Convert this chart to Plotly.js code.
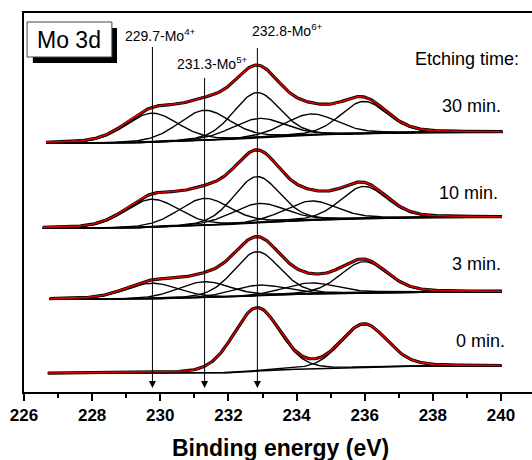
<!DOCTYPE html>
<html>
<head>
<meta charset="utf-8">
<script src="https://cdn.plot.ly/plotly-3.0.1.min.js"></script>
<style>html,body{margin:0;padding:0;background:#fff;}#chart{width:532px;height:460px;}</style>
</head>
<body>
<div id="chart"></div>
<script>
// ---- data ----
// spectra, bottom to top
const etchLabels = ['0 min.', '3 min.', '10 min.', '30 min.'];
const energyStart = [226.70, 226.75, 226.55, 226.65];   // eV, first data point
const energyEnd   = [240.05, 240.05, 240.05, 240.05];   // eV, last data point
const bgLeft  = [18.7, 92.7, 163.7, 248.7];             // background level at low-energy end (a.u.)
const bgRight = [26.0, 100.3, 174.7, 259.7];            // background level at high-energy end (a.u.)

// fitted components (doublets of Mo4+, Mo5+, Mo6+)
const peakNames   = ['Mo4+ 3d5/2', 'Mo4+ 3d3/2', 'Mo5+ 3d5/2', 'Mo5+ 3d3/2', 'Mo6+ 3d5/2', 'Mo6+ 3d3/2'];
const peakCenters = [229.75, 232.88, 231.30, 234.43, 232.83, 235.97];  // eV
const peakFwhm    = [1.85, 1.85, 1.8, 1.8, 1.6, 1.6];                   // eV
const glMix = 0.2;                                                       // Lorentzian fraction
const heights0min  = [0, 0, 0, 0, 63, 43];
const heights3min  = [15.5, 10.5, 16, 11, 44, 31];
const heights10min = [28, 19, 27, 19, 46, 32];
const heights30min = [29, 19, 30, 21, 45, 32];
const peakHeights = [heights0min, heights3min, heights10min, heights30min];

// reference energies marked with arrows
const refEnergy = [229.77, 231.30, 232.85];
const refLabels = ['229.7-Mo<sup>4+</sup>', '231.3-Mo<sup>5+</sup>', '232.8-Mo<sup>6+</sup>'];

// x axis ticks and title
const xTicks = [226, 228, 230, 232, 234, 236, 238, 240];
const xTitle = 'Binding energy (eV)';

// ---- build traces ----
const STEP = 0.04;
function pv(x, c, h, f) {
  const d = (x - c) / f;
  return h * ((1 - glMix) * Math.exp(-4 * Math.LN2 * d * d) + glMix / (1 + 4 * d * d));
}
const traces = [];
const fits = [];
for (let s = 0; s < etchLabels.length; s++) {
  const xs = [];
  for (let e = energyStart[s]; e <= energyEnd[s] + 1e-9; e += STEP) xs.push(+e.toFixed(3));
  const h = peakHeights[s];
  const comps = peakCenters.map((c, i) => xs.map(x => pv(x, c, h[i], peakFwhm[i])));
  const sum = xs.map((x, k) => comps.reduce((a, cp) => a + cp[k], 0));
  // Shirley-type background
  const cum = [0];
  for (let k = 1; k < xs.length; k++) cum.push(cum[k - 1] + (sum[k] + sum[k - 1]) / 2);
  const tot = cum[cum.length - 1] || 1;
  const bg = cum.map(a => bgLeft[s] + (bgRight[s] - bgLeft[s]) * a / tot);
  traces.push({x: xs, y: bg, mode: 'lines', line: {color: '#000', width: 1.6}, hoverinfo: 'skip'});
  comps.forEach((cp, i) => {
    if (h[i] <= 0) return;
    traces.push({x: xs, y: cp.map((v, k) => v + bg[k]), mode: 'lines',
      line: {color: '#000', width: 1.4}, name: peakNames[i], hoverinfo: 'skip'});
  });
  const env = sum.map((v, k) => v + bg[k]);
  traces.push({x: xs, y: env, mode: 'lines', line: {color: '#000', width: 3.2}, hoverinfo: 'skip'});
  fits.push({x: xs, y: env, mode: 'lines', line: {color: '#e00000', width: 1.6}, hoverinfo: 'skip'});
}
fits.forEach(t => traces.push(t));

// arrow heads at the reference energies
traces.push({x: refEnergy, y: refEnergy.map(() => 4), mode: 'markers', hoverinfo: 'skip',
  marker: {symbol: 'arrow-down', size: 7, color: '#000', line: {width: 0}}, cliponaxis: false});

// ---- shapes: arrow shafts and the "Mo 3d" box ----
const arrowTop = [345, 314, 344];
const shapes = [];
refEnergy.forEach((e, i) => {
  shapes.push({type: 'line', xref: 'x', yref: 'y', x0: e, x1: e, y0: 8, y1: arrowTop[i],
    line: {color: '#000', width: 1}});
});
shapes.push({type: 'rect', xref: 'x', yref: 'y', x0: 226.26, x1: 228.73, y0: 329, y1: 364,
  fillcolor: '#000', line: {width: 0}});
shapes.push({type: 'rect', xref: 'x', yref: 'y', x0: 226.09, x1: 228.58, y0: 335, y1: 370,
  fillcolor: '#fff', line: {color: '#444', width: 1}});

// ---- annotations ----
const FONT = 'Liberation Sans, Arial, sans-serif';
const ann = [];
const labelX = [228.90, 230.43, 232.63];
const labelY = [357, 329, 362];
refLabels.forEach((t, i) => {
  ann.push({x: labelX[i], y: labelY[i], xref: 'x', yref: 'y', xanchor: 'left', yanchor: 'middle',
    text: t, showarrow: false, font: {family: FONT, size: 14, color: '#000'}});
});
ann.push({x: 237.42, y: 333, xref: 'x', yref: 'y', xanchor: 'left', yanchor: 'middle', text: 'Etching time:',
  showarrow: false, font: {family: FONT, size: 18, color: '#000'}});
const etchX = [240.18, 240.05, 239.97, 240.05];
const etchY = [51, 128, 199, 286];
etchLabels.forEach((t, i) => {
  ann.push({x: etchX[i], y: etchY[i], xref: 'x', yref: 'y', xanchor: 'right', yanchor: 'middle', text: t,
    showarrow: false, font: {family: FONT, size: 18, color: '#000'}});
});
ann.push({x: 227.335, y: 352.5, xref: 'x', yref: 'y', xanchor: 'center', yanchor: 'middle', text: 'Mo 3d',
  showarrow: false, font: {family: FONT, size: 23, color: '#000'}});
// axis title, placed below the tick labels
ann.push({x: 0.505, y: -0.148, xref: 'paper', yref: 'paper', xanchor: 'center', yanchor: 'middle',
  text: xTitle, showarrow: false, font: {family: FONT, size: 23, color: '#000', weight: 'bold'}});

const layout = {
  width: 532, height: 460,
  margin: {l: 24, r: 0, t: 13, b: 68},
  paper_bgcolor: '#fff', plot_bgcolor: '#fff',
  showlegend: false,
  font: {family: FONT, color: '#000'},
  xaxis: {
    range: [226, 240.91], tickmode: 'array', tickvals: xTicks, ticktext: xTicks.map(String),
    ticks: 'outside', ticklen: 7, tickwidth: 2, tickcolor: '#000',
    showline: true, linewidth: 2, linecolor: '#000', mirror: true,
    showgrid: false, zeroline: false,
    tickfont: {family: FONT, size: 17, color: '#000', weight: 'bold'},
    minor: {dtick: 1, tick0: 226, ticks: 'outside', ticklen: 4, tickwidth: 2, tickcolor: '#000', showgrid: false}
  },
  yaxis: {
    range: [0, 379], showline: true, linewidth: 2, linecolor: '#000',
    showticklabels: false, ticks: '', showgrid: false, zeroline: false
  },
  annotations: ann,
  shapes: shapes
};
Plotly.newPlot('chart', traces, layout, {staticPlot: true, displayModeBar: false});
</script>
</body>
</html>
